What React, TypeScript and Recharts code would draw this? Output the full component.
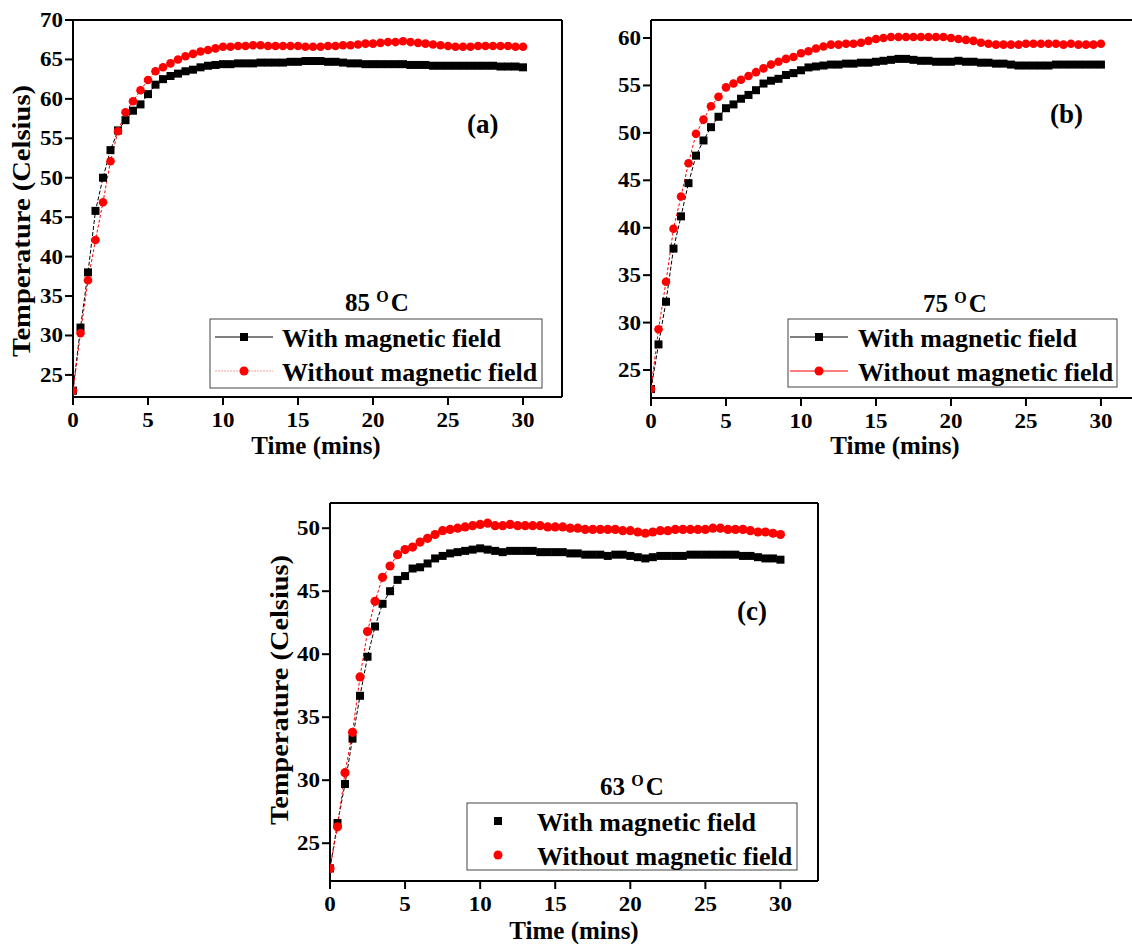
import React from "react";
import { LineChart, Line, XAxis, YAxis, ReferenceLine } from "recharts";

// time axis, minutes (0.5 min steps)
const times = [
  0, 0.5, 1, 1.5, 2, 2.5, 3, 3.5, 4, 4.5, 5, 5.5, 6, 6.5, 7, 7.5, 8, 8.5, 9, 9.5,
  10, 10.5, 11, 11.5, 12, 12.5, 13, 13.5, 14, 14.5, 15, 15.5, 16, 16.5, 17, 17.5,
  18, 18.5, 19, 19.5, 20, 20.5, 21, 21.5, 22, 22.5, 23, 23.5, 24, 24.5, 25, 25.5,
  26, 26.5, 27, 27.5, 28, 28.5, 29, 29.5, 30,
];

// (a) 85 oC
const aWith = [
  23.0, 31.0, 38.0, 45.8, 50.0, 53.5, 56.0, 57.3, 58.5, 59.3, 60.6, 61.8, 62.5, 62.9, 63.2, 63.5,
  63.7, 64.0, 64.2, 64.3, 64.4, 64.4, 64.5, 64.5, 64.5, 64.6, 64.6, 64.6, 64.6, 64.7, 64.7, 64.8,
  64.8, 64.8, 64.7, 64.7, 64.6, 64.5, 64.5, 64.4, 64.4, 64.4, 64.4, 64.4, 64.4, 64.3, 64.3, 64.3,
  64.2, 64.2, 64.2, 64.2, 64.2, 64.2, 64.2, 64.2, 64.2, 64.1, 64.1, 64.1, 64.0,
];
const aWithout = [
  23.0, 30.3, 37.0, 42.1, 46.9, 52.1, 55.9, 58.3, 59.7, 61.1, 62.4, 63.5, 64.0, 64.5, 65.0, 65.4,
  65.7, 66.0, 66.2, 66.4, 66.6, 66.6, 66.7, 66.7, 66.8, 66.8, 66.7, 66.7, 66.7, 66.7, 66.7, 66.6,
  66.6, 66.6, 66.7, 66.7, 66.8, 66.8, 66.9, 67.0, 67.0, 67.1, 67.2, 67.2, 67.3, 67.2, 67.1, 67.0,
  66.9, 66.8, 66.7, 66.6, 66.6, 66.6, 66.7, 66.7, 66.7, 66.7, 66.7, 66.6, 66.6,
];

// (b) 75 oC
const bWith = [
  23.0, 27.7, 32.2, 37.8, 41.2, 44.7, 47.6, 49.2, 50.6, 51.7, 52.6, 53.0, 53.6, 54.0, 54.5, 55.2,
  55.5, 55.7, 56.1, 56.3, 56.6, 56.9, 57.0, 57.1, 57.2, 57.2, 57.3, 57.3, 57.4, 57.4, 57.5, 57.6,
  57.7, 57.8, 57.8, 57.7, 57.6, 57.6, 57.5, 57.5, 57.5, 57.6, 57.5, 57.5, 57.4, 57.4, 57.3, 57.3,
  57.2, 57.1, 57.1, 57.1, 57.1, 57.1, 57.2, 57.2, 57.2, 57.2, 57.2, 57.2, 57.2,
];
const bWithout = [
  23.0, 29.3, 34.3, 39.9, 43.3, 46.8, 49.9, 51.4, 52.8, 53.8, 54.8, 55.2, 55.6, 56.0, 56.4, 56.8,
  57.2, 57.5, 57.8, 58.0, 58.4, 58.6, 58.9, 59.1, 59.3, 59.3, 59.4, 59.4, 59.5, 59.7, 59.9, 60.0,
  60.1, 60.1, 60.1, 60.1, 60.1, 60.1, 60.1, 60.1, 60.0, 59.9, 59.8, 59.7, 59.5, 59.4, 59.3, 59.3,
  59.3, 59.3, 59.4, 59.4, 59.4, 59.4, 59.4, 59.3, 59.4, 59.3, 59.3, 59.3, 59.4,
];

// (c) 63 oC
const cWith = [
  23.0, 26.6, 29.7, 33.3, 36.7, 39.8, 42.2, 44.0, 45.0, 45.9, 46.2, 46.8, 46.9, 47.2, 47.6, 47.8,
  48.0, 48.1, 48.2, 48.3, 48.4, 48.3, 48.2, 48.1, 48.2, 48.2, 48.2, 48.2, 48.1, 48.1, 48.1, 48.1,
  48.0, 48.0, 47.9, 47.9, 47.9, 47.8, 47.9, 47.9, 47.8, 47.7, 47.6, 47.7, 47.8, 47.8, 47.8, 47.8,
  47.9, 47.9, 47.9, 47.9, 47.9, 47.9, 47.9, 47.8, 47.8, 47.7, 47.6, 47.6, 47.5,
];
const cWithout = [
  23.0, 26.3, 30.6, 33.8, 38.2, 41.8, 44.2, 46.1, 47.0, 47.9, 48.3, 48.5, 48.9, 49.2, 49.5, 49.8,
  49.9, 50.0, 50.1, 50.2, 50.3, 50.4, 50.2, 50.2, 50.3, 50.2, 50.2, 50.2, 50.2, 50.1, 50.1, 50.1,
  50.0, 50.0, 49.9, 49.9, 49.9, 49.9, 49.9, 49.8, 49.8, 49.7, 49.6, 49.7, 49.8, 49.8, 49.9, 49.9,
  49.9, 49.9, 49.9, 50.0, 50.0, 49.9, 49.9, 49.9, 49.8, 49.7, 49.7, 49.6, 49.5,
];

const xTicks = [0, 5, 10, 15, 20, 25, 30];
const aTicks = [25, 30, 35, 40, 45, 50, 55, 60, 65, 70];
const bTicks = [25, 30, 35, 40, 45, 50, 55, 60];
const cTicks = [25, 30, 35, 40, 45, 50];

const FONT = "'Liberation Serif', 'Times New Roman', serif";
const STRETCH = 1.15;

const build = (a: number[], b: number[]) => times.map((t, i) => ({ t, with: a[i], without: b[i] }));

const XTick = (props: any) => {
  const { x, y, payload } = props;
  return (
    <g transform={`translate(${x},${y}) scale(${STRETCH},1)`}>
      <text x={0} y={20} textAnchor="middle" fontFamily={FONT} fontWeight="bold" fontSize={20} fill="#000">
        {payload.value}
      </text>
    </g>
  );
};

const YTick = (props: any) => {
  const { x, y, payload } = props;
  return (
    <g transform={`translate(${x},${y}) scale(${STRETCH},1)`}>
      <text x={0} y={7} textAnchor="end" fontFamily={FONT} fontWeight="bold" fontSize={20} fill="#000">
        {payload.value}
      </text>
    </g>
  );
};

const square = (props: any) => {
  const { cx, cy, index } = props;
  if (cx == null || cy == null) return <g key={`sq-${index}`} />;
  return <rect key={`sq-${index}`} x={cx - 4} y={cy - 4} width={8} height={8} fill="#000" />;
};

const axisStroke = { stroke: "#000", strokeWidth: 2 };

interface PanelProps {
  left: number;
  top: number;
  width: number;
  height: number;
  xAxisHeight: number;
  xMax: number;
  yDomain: [number, number];
  yTicks: number[];
  data: { t: number; with: number; without: number }[];
  rightBorder: boolean;
  dotR: number;
}

const Panel = ({ left, top, width, height, xAxisHeight, xMax, yDomain, yTicks, data, rightBorder, dotR }: PanelProps) => (
  <div style={{ position: "absolute", left, top }}>
    <LineChart width={width} height={height} data={data} margin={{ top: 20, right: rightBorder ? 18 : 0, left: 0, bottom: 0 }}>
      <XAxis
        type="number"
        dataKey="t"
        domain={[0, xMax]}
        ticks={xTicks}
        interval={0}
        allowDataOverflow
        height={xAxisHeight}
        tickSize={8}
        axisLine={axisStroke}
        tickLine={axisStroke}
        tick={<XTick />}
      />
      <YAxis
        type="number"
        domain={yDomain}
        ticks={yTicks}
        interval={0}
        allowDataOverflow
        width={73}
        tickSize={8}
        axisLine={axisStroke}
        tickLine={axisStroke}
        tick={<YTick />}
      />
      <ReferenceLine y={yDomain[1]} stroke="#000" strokeWidth={2} />
      {rightBorder && <ReferenceLine x={xMax} stroke="#000" strokeWidth={2} />}
      <Line
        type="linear"
        dataKey="with"
        stroke="#000"
        strokeWidth={1}
        strokeDasharray="4 2"
        dot={square}
        activeDot={false}
        isAnimationActive={false}
      />
      <Line
        type="linear"
        dataKey="without"
        stroke="#ff0000"
        strokeWidth={1}
        strokeDasharray="3 2"
        dot={{ r: dotR, fill: "#ff0000", stroke: "#ff0000", strokeWidth: 0 }}
        activeDot={false}
        isAnimationActive={false}
      />
    </LineChart>
  </div>
);

const Title = ({ x, y, num }: { x: number; y: number; num: string }) => (
  <text x={x} y={y} fontFamily={FONT} fontWeight="bold" fontSize={25} fill="#000">
    <tspan>{num} </tspan>
    <tspan dy={-9} fontSize={16}>O</tspan>
    <tspan dy={9} dx={2}>C</tspan>
  </text>
);

const LegendBox = ({ x, y, w, h, mx, lineLen, tx, redLine, blackLine }: any) => (
  <g fontFamily={FONT} fontWeight="bold" fontSize={26} fill="#000">
    <rect x={x} y={y} width={w} height={h} fill="#fff" stroke="#444" strokeWidth={1} />
    {blackLine && <line x1={mx - lineLen} x2={mx + lineLen} y1={y + 18} y2={y + 18} stroke="#000" strokeWidth={1} />}
    <rect x={mx - 4} y={y + 14} width={8} height={8} fill="#000" />
    <text x={tx} y={y + 28}>With magnetic field</text>
    {redLine && (
      <line x1={mx - lineLen} x2={mx + lineLen} y1={y + 52} y2={y + 52} stroke={redLine} strokeWidth={1} strokeDasharray={redLine === "#ff0000" ? undefined : "2 1"} />
    )}
    <circle cx={mx} cy={y + 52} r={4.5} fill="#ff0000" />
    <text x={tx} y={y + 62}>Without magnetic field</text>
  </g>
);

export default function App() {
  const dataA = build(aWith, aWithout);
  const dataB = build(bWith, bWithout);
  const dataC = build(cWith, cWithout);
  return (
    <div style={{ position: "absolute", left: 0, top: 0, width: 1132, height: 944, background: "#fff", overflow: "hidden" }}>
      <Panel left={0} top={0} width={580} height={470} xAxisHeight={73} xMax={32.6} yDomain={[22.2, 70]} yTicks={aTicks} data={dataA} rightBorder dotR={4.3} />
      <Panel left={578} top={0} width={554} height={470} xAxisHeight={72} xMax={32.07} yDomain={[22.05, 61.9]} yTicks={bTicks} data={dataB} rightBorder={false} dotR={4.3} />
      <Panel left={257} top={483} width={579} height={461} xAxisHeight={63} xMax={32.5} yDomain={[22, 52]} yTicks={cTicks} data={dataC} rightBorder dotR={4.6} />

      <svg width={1132} height={944} style={{ position: "absolute", left: 0, top: 0, pointerEvents: "none" }}>
        {/* axis titles */}
        <text x={30} y={221} transform="rotate(-90 30 221)" textAnchor="middle" fontFamily={FONT} fontWeight="bold" fontSize={26} textLength={272} lengthAdjust="spacingAndGlyphs">
          Temperature (Celsius)
        </text>
        <text x={316} y={454} textAnchor="middle" fontFamily={FONT} fontWeight="bold" fontSize={25}>Time (mins)</text>
        <text x={895} y={454} textAnchor="middle" fontFamily={FONT} fontWeight="bold" fontSize={25}>Time (mins)</text>
        <text x={288} y={690} transform="rotate(-90 288 690)" textAnchor="middle" fontFamily={FONT} fontWeight="bold" fontSize={26} textLength={270} lengthAdjust="spacingAndGlyphs">
          Temperature (Celsius)
        </text>
        <text x={574} y={939} textAnchor="middle" fontFamily={FONT} fontWeight="bold" fontSize={25}>Time (mins)</text>

        {/* panel labels */}
        <text x={467} y={133} fontFamily={FONT} fontWeight="bold" fontSize={27}>(a)</text>
        <text x={1050} y={123} fontFamily={FONT} fontWeight="bold" fontSize={27}>(b)</text>
        <text x={737} y={620} fontFamily={FONT} fontWeight="bold" fontSize={27}>(c)</text>

        <Title x={345} y={311} num="85" />
        <Title x={923} y={312} num="75" />
        <Title x={600} y={795} num="63" />

        <LegendBox x={210} y={319} w={332} h={69} mx={244} lineLen={29} tx={282} blackLine redLine="#ff9a9a" />
        <LegendBox x={788} y={319} w={329} h={68} mx={819} lineLen={29} tx={858} blackLine redLine="#ff0000" />
        <LegendBox x={467} y={803} w={330} h={67} mx={498} lineLen={29} tx={537} blackLine={false} redLine={null} />
      </svg>
    </div>
  );
}
